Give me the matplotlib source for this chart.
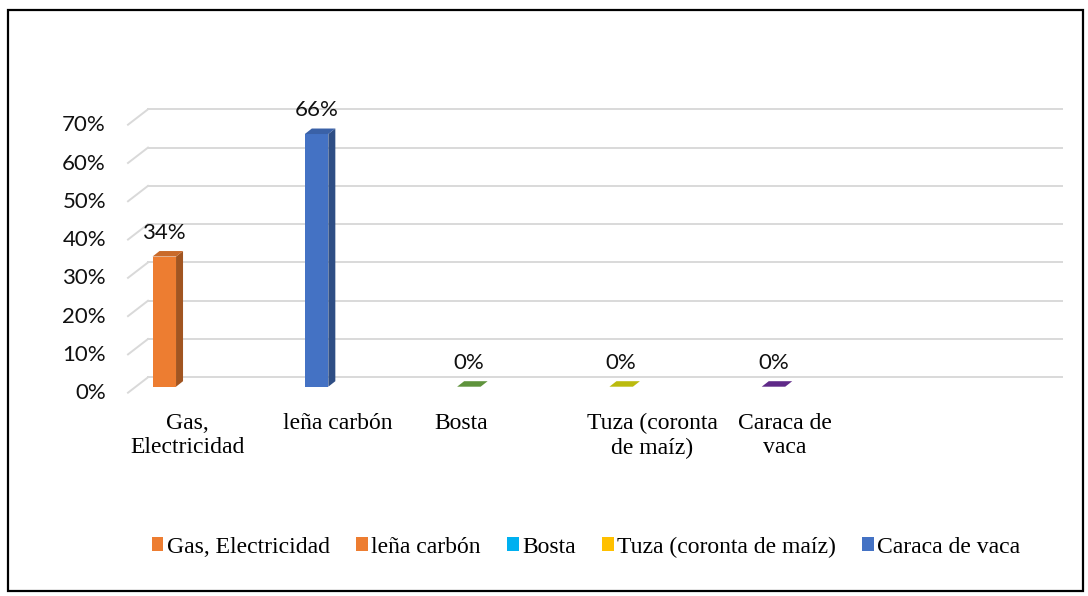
import numpy as np
import matplotlib
matplotlib.use("Agg")
import matplotlib.pyplot as plt
from matplotlib.patches import Polygon, Patch, Rectangle
from matplotlib.colors import to_rgb

# data
categories = ["Gas,\nElectricidad", "leña carbón", "Bosta", "Tuza (coronta\nde maíz)", "Caraca de\nvaca"]
values = [0.34, 0.66, 0.0, 0.0, 0.0]
bar_colors = ["#ED7D31", "#4472C4", "#70AD47", "#DCDC10", "#7030A0"]
yticks = [0.0, 0.1, 0.2, 0.3, 0.4, 0.5, 0.6, 0.7]
legend_labels = ["Gas, Electricidad", "leña carbón", "Bosta", "Tuza (coronta de maíz)", "Caraca de vaca"]
legend_colors = ["#ED7D31", "#ED7D31", "#00B0F0", "#FFC000", "#4472C4"]

W, H = 1088, 596
SANS = ["Lato", "DejaVu Sans"]
SERIF = ["Liberation Serif", "DejaVu Serif"]

fig = plt.figure(figsize=(W / 100, H / 100), dpi=100)

# back wall of the pseudo-3d plot, in pixels
left, right, top, bottom = 148, 1062, 109.3, 377.3
ax = fig.add_axes([left / W, 1 - bottom / H, (right - left) / W, (bottom - top) / H])
xmin = -0.187
xmax = xmin + (right - left) / 152.3
ax.set_xlim(xmin, xmax)
ax.set_ylim(0, 0.7)
ax.axis("off")

PX_X = (right - left) / (xmax - xmin)
PX_Y = (bottom - top) / 0.7


def px(dx, dy):
    return dx / PX_X, dy / PX_Y


grid_c = "#D9D9D9"
sdx, sdy = px(-20, -15.4)
for t in yticks:
    ax.plot([xmin, xmax], [t, t], color=grid_c, lw=1.4, clip_on=False, zorder=1)
    ax.plot([xmin, xmin + sdx], [t, t + sdy], color=grid_c, lw=1.4, clip_on=False, zorder=1)
    ox, oy = px(-42, -16)
    ax.text(xmin + ox, t + oy, f"{int(round(t * 100))}%", ha="right", va="center",
            fontsize=16, family=SANS, color="#111111")


def shade(c, f):
    return tuple(np.array(to_rgb(c)) * f)


fdx, fdy = px(-12.2, -9.4)   # front face of bars
ddx, ddy = px(7, 5.5)        # bar depth
bw = 23.5 / PX_X

for i, (v, c) in enumerate(zip(values, bar_colors)):
    x0 = i + fdx - bw / 2
    x1 = x0 + bw
    y0 = fdy
    y1 = fdy + v
    if v > 0:
        ax.add_patch(Rectangle((x0, y0), bw, v, facecolor=c, edgecolor="none", clip_on=False, zorder=3))
        ax.add_patch(Polygon([(x1, y0), (x1 + ddx, y0 + ddy), (x1 + ddx, y1 + ddy), (x1, y1)],
                             closed=True, facecolor=shade(c, 0.68), edgecolor="none", clip_on=False, zorder=3))
    ax.add_patch(Polygon([(x0, y1), (x1, y1), (x1 + ddx, y1 + ddy), (x0 + ddx, y1 + ddy)],
                         closed=True, facecolor=shade(c, 0.85), edgecolor="none", clip_on=False, zorder=3))
    ax.text(i + fdx, y1 + 24 / PX_Y, f"{v:.0%}", ha="center", va="center",
            fontsize=16, family=SANS, color="#111111", zorder=4)

# category labels (shifted like the original wrapped labels)
label_shift = [23, 21, -8, 31, 11]
for i, (lab, s) in enumerate(zip(categories, label_shift)):
    ax.text(i + fdx + s / PX_X, -(413 - bottom) / PX_Y, lab, ha="center", va="top",
            fontsize=17, family=SERIF, linespacing=1.2, color="black")

handles = [Patch(facecolor=c, edgecolor="none") for c in legend_colors]
fig.legend(handles, legend_labels, loc="center", bbox_to_anchor=(586 / W, 1 - 547 / H),
           ncol=5, frameon=False, handlelength=0.5, handleheight=0.5, handletextpad=0.15,
           columnspacing=1.1, prop={"family": SERIF, "size": 17})

fig.patches.append(Rectangle((8 / W, 1 - 591 / H), (1083 - 8) / W, (591 - 10) / H,
                             transform=fig.transFigure, fill=False, edgecolor="black", lw=1.6))

fig.savefig("out.png", dpi=100)
